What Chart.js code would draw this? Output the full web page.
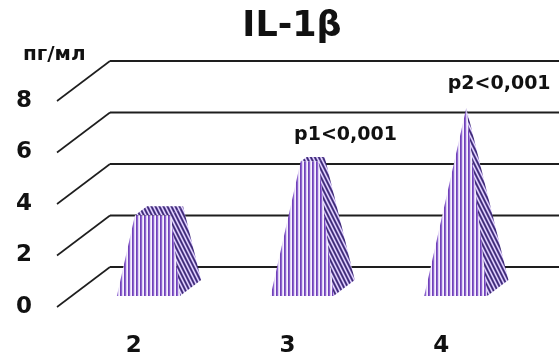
<!DOCTYPE html>
<html>
<head>
<meta charset="utf-8">
<title>IL-1β</title>
<script src="https://cdn.jsdelivr.net/npm/chart.js@4/dist/chart.umd.min.js"></script>
<style>
  html, body { margin: 0; padding: 0; background: #fff; }
  #wrap { width: 559px; height: 353px; }
</style>
</head>
<body>
<div id="wrap"><canvas id="ilChart" width="559" height="353"></canvas></div>
<script>
/* ── Data ── */
const groups    = ['2', '3', '4'];
const il1b      = [3.0, 5.0, 7.0];
const pLabels   = ['', 'p1<0,001', 'p2<0,001'];
const yTicks    = [0, 2, 4, 6, 8];
const titleText = 'IL-1β';
const unitText  = 'пг/мл';

/* ── 3D look ── */
const DX = 53, DY = 40;          // front plane -> back wall offset
const F_FRONT = 0.275, F_BACK = 0.675;
const F_MID = (F_FRONT + F_BACK) / 2, F_HALF = (F_BACK - F_FRONT) / 2;
const FONT = "'DejaVu Sans', Verdana, sans-serif";

function stripes(w, h, fn) {
  const c = document.createElement('canvas');
  c.width = w; c.height = h;
  const g = c.getContext('2d');
  for (let i = 0; i < w; i++) {
    for (let j = 0; j < h; j++) {
      g.fillStyle = fn(i, j);
      g.fillRect(i, j, 1, 1);
    }
  }
  return c;
}

const ctx = document.getElementById('ilChart').getContext('2d');
const frontFill = ctx.createPattern(
  stripes(4, 4, (i) => ['#7041b8', '#8d64cf', '#ddcff4', '#f7f2fd'][i]), 'repeat');
const sideFill = ctx.createPattern(
  stripes(4, 8, (i, j) => {
    const k = (((2 * i - j) % 8) + 8) % 8;
    return ['#3b2b66', '#4d3a85', '#8068bd', '#c7b5ec', '#ebe2f9', '#c7b5ec', '#8068bd', '#4d3a85'][k];
  }), 'repeat');

/* ── Plugin: perspective grid + titles ── */
const wallGrid = {
  id: 'wallGrid',
  beforeDatasetsDraw(chart) {
    const { ctx, chartArea, scales: { y } } = chart;
    ctx.save();
    ctx.strokeStyle = '#1e1e1e';
    yTicks.forEach(v => {
      const yy = y.getPixelForValue(v);
      ctx.lineWidth = 1.6;
      ctx.beginPath();
      ctx.moveTo(chartArea.left, yy);
      ctx.lineTo(chartArea.left + DX, yy - DY);
      ctx.stroke();
      ctx.lineWidth = 2;
      ctx.beginPath();
      ctx.moveTo(chartArea.left + DX, yy - DY);
      ctx.lineTo(chart.width, yy - DY);
      ctx.stroke();
    });
    ctx.fillStyle = '#111';
    ctx.textBaseline = 'middle';
    ctx.textAlign = 'center';
    ctx.font = 'bold 35px ' + FONT;
    ctx.fillText(titleText, 292, 27);
    ctx.textAlign = 'left';
    ctx.font = 'bold 20px ' + FONT;
    ctx.fillText(unitText, chartArea.left - 34, chartArea.top - 46);
    ctx.restore();
  }
};

/* ── Plugin: pyramids ── */
const pyramids = {
  id: 'pyramids',
  afterDatasetsDraw(chart) {
    const { ctx, scales: { y } } = chart;
    const meta = chart.getDatasetMeta(0);
    const vmax = Math.max(...il1b);
    ctx.save();
    meta.data.forEach((bar, i) => {
      const v = il1b[i];
      const k = 1 - v / vmax;
      const hw = bar.width / 2;
      const P = (dx, val, f) => [bar.x + dx + DX * f, y.getPixelForValue(val) - DY * f];
      const b1 = P(-hw, 0, F_FRONT), b2 = P(hw, 0, F_FRONT), b3 = P(hw, 0, F_BACK);
      const t1 = P(-hw * k, v, F_MID - F_HALF * k), t2 = P(hw * k, v, F_MID - F_HALF * k);
      const t3 = P(hw * k, v, F_MID + F_HALF * k), t4 = P(-hw * k, v, F_MID + F_HALF * k);
      const poly = (pts, fill) => {
        ctx.beginPath();
        ctx.moveTo(pts[0][0], pts[0][1]);
        pts.slice(1).forEach(p => ctx.lineTo(p[0], p[1]));
        ctx.closePath();
        ctx.fillStyle = fill;
        ctx.fill();
      };
      poly([b2, b3, t3, t2], sideFill);
      if (k > 0.001) poly([t1, t2, t3, t4], sideFill);
      poly([b1, b2, t2, t1], frontFill);

      if (pLabels[i]) {
        ctx.fillStyle = '#111';
        ctx.font = 'bold 19px ' + FONT;
        ctx.textAlign = 'center';
        ctx.textBaseline = 'middle';
        ctx.fillText(pLabels[i], bar.x + 58, y.getPixelForValue(v) - 43);
      }
    });
    ctx.restore();
  }
};

new Chart(ctx, {
  type: 'bar',
  data: {
    labels: groups,
    datasets: [{
      label: titleText,
      data: il1b,
      backgroundColor: 'rgba(0,0,0,0)',
      borderWidth: 0,
      barPercentage: 0.41,
      categoryPercentage: 1
    }]
  },
  options: {
    responsive: false,
    devicePixelRatio: 1,
    animation: false,
    layout: { padding: { left: 0, right: 41, top: 101, bottom: 0 } },
    plugins: {
      legend: { display: false },
      tooltip: { enabled: false },
      title: { display: false }
    },
    scales: {
      x: {
        grid: { display: false, drawTicks: false },
        border: { display: false },
        ticks: { color: '#111', font: { family: FONT, size: 23, weight: 'bold' }, padding: 25 },
        afterFit: s => { s.height = 46; }
      },
      y: {
        min: 0,
        max: 8,
        grid: { display: false, drawTicks: false },
        border: { display: false },
        ticks: {
          stepSize: 2,
          color: '#111',
          font: { family: FONT, size: 23, weight: 'bold' },
          padding: 25
        },
        afterFit: s => { s.width = 57; }
      }
    }
  },
  plugins: [wallGrid, pyramids]
});
</script>
</body>
</html>
